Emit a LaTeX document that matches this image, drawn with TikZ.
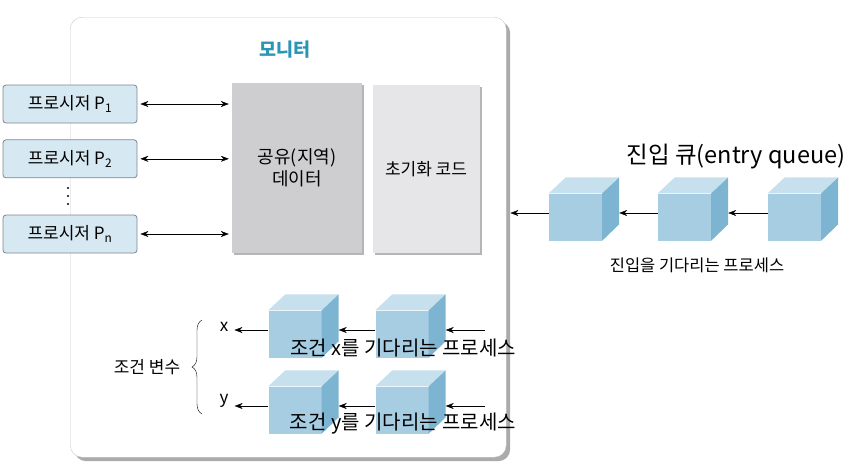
\documentclass[tikz,border=0pt]{standalone}
\usepackage{fontspec}
\setmainfont{Noto Sans CJK KR}
\usepackage{tikz}
\usetikzlibrary{arrows.meta, positioning, calc, shadows, decorations.pathreplacing}
\definecolor{colTitle}{RGB}{40,150,180}
\definecolor{colProc}{RGB}{214,232,242}
\definecolor{colProcBorder}{RGB}{125,135,145}
\definecolor{colShared}{RGB}{206,206,209}
\definecolor{colInit}{RGB}{230,230,233}
\definecolor{colCubeFront}{RGB}{166,205,226}
\definecolor{colCubeTop}{RGB}{198,224,238}
\definecolor{colCubeSide}{RGB}{124,180,209}
\definecolor{colShadow}{RGB}{150,150,150}
\tikzset{
    monitor/.style={rectangle, fill=white, draw=colShadow!50, rounded corners=12pt,
        drop shadow={shadow xshift=4pt, shadow yshift=-4pt, fill=colShadow, opacity=0.8}},
    procbox/.style={rectangle, draw=colProcBorder, fill=colProc, rounded corners=3pt, thick,
        minimum width=134pt, minimum height=38pt, inner sep=0pt, font=\fontsize{17}{19}\selectfont},
    databox/.style={rectangle, inner sep=0pt, align=center, font=\fontsize{18}{22}\selectfont,
        drop shadow={shadow xshift=2pt, shadow yshift=-2pt, fill=colShadow, opacity=0.7}},
    cubefront/.style={rectangle, fill=colCubeFront, minimum width=53pt, minimum height=47pt, inner sep=0pt},
    label/.style={font=\fontsize{17}{19}\selectfont, inner sep=1pt},
    caption/.style={font=\fontsize{20}{22}\selectfont, inner sep=0pt},
    arrow/.style={-{Stealth[length=8pt, width=6pt]}, thin},
    dblarrow/.style={{Stealth[length=8pt, width=6pt]}-{Stealth[length=8pt, width=6pt]}, thin}
}
% cube: front face as node, top and side drawn on its corners
\newcommand{\qcube}[2]{%
    \node[cubefront] (#1) at (#2) {};
    \fill[colCubeTop] (#1.north west) -- ++(17,-16) -- ++(53,0) -- (#1.north east) -- cycle;
    \fill[colCubeSide] (#1.north east) -- ++(17,-16) -- ++(0,47) -- (#1.south east) -- cycle;
    \coordinate (#1-in) at ($(#1.west)+(0,-4)$);
    \coordinate (#1-out) at ($(#1.east)+(17,-4)$);
}

\begin{document}
\begin{tikzpicture}[x=1pt, y=-1pt]
    \useasboundingbox (0,0) rectangle (853,467);

    % monitor
    \node[monitor, minimum width=436pt, minimum height=440pt, anchor=north west] (mon) at (70,17) {};
    \node[font=\fontsize{18.5}{20}\selectfont\bfseries, text=colTitle] (title) at (285,50) {모니터};

    \node[databox, fill=colShared, minimum width=130pt, minimum height=170pt] (shared) at (297,168) {공유(지역)\\데이터};
    \node[databox, fill=colInit, minimum width=107pt, minimum height=168pt, font=\fontsize{17}{20}\selectfont] (init) at (426,169) {초기화 코드};

    % procedures
    \node[procbox] (p1) at (70,104) {프로시저 P\textsubscript{1}};
    \node[procbox, below=16pt of p1] (p2) {프로시저 P\textsubscript{2}};
    \node[procbox] (pn) at (70,234) {프로시저 P\textsubscript{n}};
    \foreach \d in {188,196,204}
        \fill (68,\d) circle (1.1pt);

    \coordinate (a1) at (shared.west |- p1);
    \coordinate (a2) at (shared.west |- p2);
    \coordinate (an) at (shared.west |- pn);
    \draw[dblarrow] ($(p1.east)+(3,0)$) -- ($(a1)+(-3,0)$);
    \draw[dblarrow] ($(p2.east)+(3,0)$) -- ($(a2)+(-3,0)$);
    \draw[dblarrow] ($(pn.east)+(3,0)$) -- ($(an)+(-3,0)$);

    % entry queue
    \node[font=\fontsize{23.5}{25}\selectfont, inner sep=0pt] (eqtitle) at (736,157) {진입 큐(entry queue)};
    \qcube{e1}{575.5,217}
    \qcube{e2}{684.5,217}
    \qcube{e3}{794.5,217}
    \coordinate (monin) at ($(mon.east |- e1-in)+(4,0)$);
    \draw[arrow] (e1-in) -- (monin);
    \draw[arrow] (e2-in) -- (e1-out);
    \draw[arrow] (e3-in) -- (e2-out);
    \node[label, font=\fontsize{16.5}{18}\selectfont] (eqcap) at (697,265) {진입을 기다리는 프로세스};

    % condition variables
    \qcube{x1}{295,334}
    \qcube{x2}{402,334}
    \qcube{y1}{295,410}
    \qcube{y2}{402,410}
    \node[label] (xl) at (224,327) {x};
    \node[label] (yl) at (224,401) {y};
    \coordinate (xsrc) at (485,330);
    \coordinate (ysrc) at (485,406);
    \draw[arrow] (x1-in) -- ($(xl.east)+(5,3)$);
    \draw[arrow] (x2-in) -- (x1-out);
    \draw[arrow] (xsrc) -- (x2-out);
    \draw[arrow] (y1-in) -- ($(yl.east)+(5,5)$);
    \draw[arrow] (y2-in) -- (y1-out);
    \draw[arrow] (ysrc) -- (y2-out);

    \coordinate (bt) at (202,320);
    \coordinate (bb) at (202,414);
    \draw[decorate, decoration={brace, amplitude=10pt}] (bb) -- (bt);
    \node[label] (cv) at (147,367) {조건 변수};

    \node[caption] (xcap) at (403,348) {조건 x를 기다리는 프로세스};
    \node[caption] (ycap) at (403,424) {조건 y를 기다리는 프로세스};
\end{tikzpicture}
\end{document}
